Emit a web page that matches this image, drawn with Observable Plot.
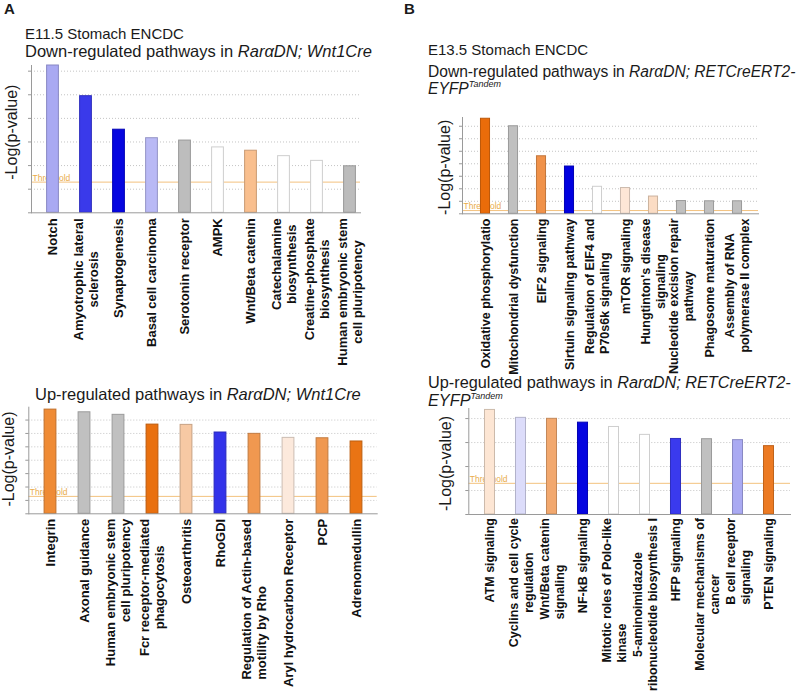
<!DOCTYPE html>
<html><head><meta charset="utf-8">
<script src="https://cdn.jsdelivr.net/npm/d3@7"></script>
<script src="https://cdn.jsdelivr.net/npm/@observablehq/plot@0.6"></script>
<style>
body{margin:0;background:#fff;}
#root{position:relative;width:798px;height:698px;overflow:hidden;background:#fff;font-family:'Liberation Sans',Arial,sans-serif;color:#1a1a1a;}
#root svg{position:absolute;left:0;top:0;}
.t{position:absolute;white-space:nowrap;line-height:1;}
.sup{font-size:9px;position:relative;top:-7px;font-style:italic;}
</style></head><body><div id="root"></div>
<script>
// ---------- DATA ----------
const threshold = 1.3;

// A: E11.5, down-regulated
const catsA1 = ["Notch","Amyotrophic lateral\nsclerosis","Synaptogenesis","Basal cell carcinoma","Serotonin receptor","AMPK","Wnt/Beta catenin","Catechalamine\nbiosynthesis","Creatine-phosphate\nbiosynthesis","Human embryonic stem\ncell pluripotency"];
const valsA1 = [6.24, 4.94, 3.52, 3.16, 3.06, 2.77, 2.63, 2.40, 2.20, 1.97];
const colorsA1 = ["#a9a9f2","#3a3aea","#0606e0","#b9b9f5","#bdbdbd","#ffffff","#f9bf8e","#ffffff","#ffffff","#bcbcbc"];
const ticksA1 = [0,1,2,3,4,5,6];

// A: E11.5, up-regulated
const catsA2 = ["Integrin","Axonal guidance","Human embryonic stem\ncell pluripotency","Fcr receptor-mediated\nphagocytosis","Osteoarthritis","RhoGDI","Regulation of Actin-based\nmotility by Rho","Aryl hydrocarbon Receptor","PCP","Adrenomedullin"];
const valsA2 = [7.78, 7.58, 7.39, 6.66, 6.64, 6.07, 5.97, 5.67, 5.64, 5.40];
const colorsA2 = ["#ef8b35","#c0c0c0","#c0c0c0","#e9700f","#f7c9a4","#3333ea","#f09850","#fce9dc","#f09850","#ea7414"];
const ticksA2 = [0,1,2,3,4,5,6,7];

// B: E13.5, down-regulated
const catsB1 = ["Oxidative phosphorylatio","Mitochondrial dysfunction","EIF2 signaling","Sirtuin signaling pathway","Regulation of EIF4 and\nP70s6k signaling","mTOR signaling","Hungtinton's disease\nsignaling","Nucleotide excision repair\npathway","Phagosome maturation","Assembly of RNA\npolymerase II complex"];
const valsB1 = [38.0, 35.0, 23.0, 18.9, 10.8, 10.3, 6.9, 5.1, 5.0, 5.0];
const colorsB1 = ["#ea6c0a","#c0c0c0","#f0924a","#0000e0","#ffffff","#fde6d6","#fbdcc4","#c0c0c0","#c0c0c0","#c0c0c0"];
const ticksB1 = [0,5,10,15,20,25,30,35];

// B: E13.5, up-regulated
const catsB2 = ["ATM signaling","Cyclins and cell cycle\nregulation","Wnt/Beta catenin\nsignaling","NF-kB signaling","Mitotic roles of Polo-like\nkinase","5-aminoimidazole\nribonucleotide biosynthesis I","HFP signaling","Molecular mechanisms of\ncancer","B cell receptor\nsignaling","PTEN signaling"];
const valsB2 = [4.36, 4.03, 3.99, 3.83, 3.65, 3.32, 3.15, 3.14, 3.10, 2.85];
const colorsB2 = ["#fde6d4","#dcdcfa","#f2a86e","#0505e0","#ffffff","#ffffff","#3a3aee","#c0c0c0","#aaaaf2","#ec7a22"];
const ticksB2 = [0,1,2,3,4];

const yLabel = "-Log(p-value)";

// ---------- LAYOUT (styles, not data) ----------
const W = 798, H = 698;
const FONT = "'Liberation Sans',Arial,sans-serif";
const layouts = [
  {cats:catsA1, vals:valsA1, colors:colorsA1, ticks:ticksA1, align:"mmmmmmmmmm",
   left:31, right:360, top:65, base:212.3, band:[34.4,366.6], barW:12, ymax:6.24, font:13, lh:15, gap:5.5, ydx:-20, ydy:-7},
  {cats:catsA2, vals:valsA2, colors:colorsA2, ticks:ticksA2, align:"mmemmmsmmm",
   left:28.3, right:376.7, top:406.7, base:513.3, band:[31.7,373.6], barW:12, ymax:7.96, font:13, lh:15, gap:5, ydx:-20, ydy:-1.5},
  {cats:catsB1, vals:valsB1, colors:colorsB1, ticks:ticksB1, align:"mmmmsmmmmm",
   left:462, right:758, top:117, base:213.3, band:[466.5,755.9], barW:10, ymax:38.5, font:12.5, lh:15, gap:4.7, ydx:-17.5, ydy:1.7},
  {cats:catsB2, vals:valsB2, colors:colorsB2, ticks:ticksB2, align:"mmsmsmmmsm",
   left:468.3, right:790, top:408, base:514, band:[471.95,786.75], barW:10.5, ymax:4.42, font:12.5, lh:15, gap:3.5, ydx:-23, ydy:2}
];

const root = document.getElementById("root");
const ctx = document.createElement("canvas").getContext("2d");

function panel(L) {
  const domain = [0, L.ymax];
  const yS = Plot.scale({y: {domain, range: [L.base, L.top]}});
  const rows = L.cats.map((c, i) => ({cat: c, val: L.vals[i], color: L.colors[i],
    edge: d3.color(L.colors[i]).darker(0.6).formatHex()}));
  ctx.font = `bold ${L.font}px ${FONT}`;
  const lines = [];
  L.cats.forEach((c, i) => {
    const ls = c.split("\n");
    const ws = ls.map(s => ctx.measureText(s).width);
    const Lmax = Math.max(...ws);
    const t = L.base + L.gap;
    ls.forEach((s, j) => {
      const w = ws[j], a = L.align[i];
      const cpx = a === "e" ? t + w / 2 : a === "s" ? t + Lmax - w / 2 : t + Lmax / 2;
      lines.push({cat: c, text: s, y: yS.invert(cpx), off: (j - (ls.length - 1) / 2) * L.lh});
    });
  });
  const offs = [...new Set(lines.map(d => d.off))];
  const step = (L.band[1] - L.band[0]) / L.cats.length;
  const inset = (step - L.barW) / 2;
  const labelY = yS.invert((L.base + L.top) / 2 + L.ydy);
  return Plot.plot({
    width: W, height: H,
    marginLeft: L.left, marginRight: W - L.right, marginTop: L.top, marginBottom: H - L.base,
    style: `background:transparent;overflow:visible;max-width:none;font-family:${FONT};`,
    x: {type: "band", domain: L.cats, range: L.band, padding: 0, axis: null},
    y: {domain, range: [L.base, L.top], label: null},
    color: {type: "identity"},
    marks: [
      Plot.gridY({ticks: L.ticks.filter(t => t > 0), stroke: "#c4c4c4", strokeOpacity: 1, strokeDasharray: "1,2"}),
      Plot.ruleY([threshold], {stroke: "#f3c27e", strokeWidth: 1}),
      Plot.text([threshold], {y: d => d, text: () => "Threshold", frameAnchor: "left", textAnchor: "start",
        lineAnchor: "bottom", dx: 1, dy: -1.5, fontSize: 8.5, fill: "#e9ac4c"}),
      Plot.barY(rows, {x: "cat", y: "val", fill: "color", stroke: "edge", strokeWidth: 1,
        insetLeft: inset, insetRight: inset}),
      Plot.axisY({ticks: L.ticks, tickSize: 3, tickFormat: () => "", stroke: "#999", label: null}),
      Plot.frame({anchor: "left", stroke: "#9a9a9a"}),
      Plot.frame({anchor: "bottom", stroke: "#9a9a9a"}),
      Plot.text([labelY], {y: d => d, text: () => yLabel, frameAnchor: "left", rotate: -90, dx: L.ydx,
        textAnchor: "middle", lineAnchor: "middle", fontSize: 16, fill: "#1a1a1a"}),
      ...offs.map(o => Plot.text(lines.filter(d => d.off === o), {x: "cat", y: "y", text: "text",
        rotate: -90, dx: o, textAnchor: "middle", lineAnchor: "middle",
        fontSize: L.font, fontWeight: "bold", fill: "#111"}))
    ]
  });
}

function txt(html, x, baseline, size, weight) {
  const d = document.createElement("div");
  d.className = "t";
  d.style.left = x + "px";
  d.style.top = (baseline - 0.8465 * size) + "px";
  d.style.fontSize = size + "px";
  if (weight) d.style.fontWeight = weight;
  d.innerHTML = html;
  root.appendChild(d);
}

// Headings
txt("A", 4, 13.5, 15, "bold");
txt("B", 404, 13.5, 15, "bold");
txt("E11.5 Stomach ENCDC", 25, 39, 15);
txt("Down-regulated pathways in <i>Rar&alpha;DN; Wnt1Cre</i>", 25, 57, 16.5);
txt("Up-regulated pathways in <i>Rar&alpha;DN; Wnt1Cre</i>", 35, 400, 16.5);
txt("E13.5 Stomach ENCDC", 428, 55, 15);
txt("Down-regulated pathways in <i>Rar&alpha;DN; RETCreERT2-</i>", 428, 77, 15.6);
txt("<i>EYFP<span class='sup'>Tandem</span></i>", 428, 94.5, 15.6);
txt("Up-regulated pathways in <i>Rar&alpha;DN; RETCreERT2-</i>", 428, 388, 16.3);
txt("<i>EYFP<span class='sup'>Tandem</span></i>", 428, 406, 16.3);

layouts.forEach(L => root.appendChild(panel(L)));
</script>
</body></html>
